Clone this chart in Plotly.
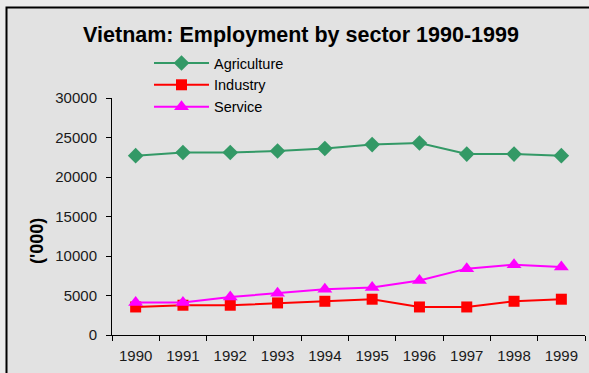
import plotly.graph_objects as go

# Employment by sector, thousands of people
years = ["1990", "1991", "1992", "1993", "1994", "1995", "1996", "1997", "1998", "1999"]
agriculture = [22700, 23100, 23100, 23300, 23600, 24100, 24300, 22900, 22900, 22700]
industry = [3550, 3770, 3770, 4060, 4270, 4530, 3550, 3550, 4270, 4530]
service = [4100, 4100, 4800, 5300, 5800, 6000, 6900, 8400, 8900, 8600]
y_ticks = [0, 5000, 10000, 15000, 20000, 25000, 30000]

FONT = "Liberation Sans, Arial, sans-serif"
W, H = 589, 373
L, R, T, B = 112, 4, 98, 38
plot_w, plot_h = W - L - R, H - T - B


def px_x(x):
    return (x - L) / plot_w


def px_y(y):
    return (H - B - y) / plot_h


fig = go.Figure()
fig.add_trace(go.Scatter(
    x=years, y=agriculture, name="Agriculture", mode="lines+markers",
    line=dict(color="#339966", width=2),
    marker=dict(symbol="diamond", size=12, color="#339966"),
))
fig.add_trace(go.Scatter(
    x=years, y=industry, name="Industry", mode="lines+markers",
    line=dict(color="#ff0000", width=2),
    marker=dict(symbol="square", size=11, color="#ff0000"),
))
fig.add_trace(go.Scatter(
    x=years, y=service, name="Service", mode="lines+markers",
    line=dict(color="#ff00ff", width=2),
    marker=dict(symbol="triangle-up", size=13, color="#ff00ff"),
))

# chart-area panel with black frame
fig.add_shape(
    type="rect", xref="paper", yref="paper", layer="below",
    x0=px_x(6.5), x1=px_x(600), y0=px_y(7.5), y1=px_y(380),
    fillcolor="#e2e2e2", line=dict(color="#000000", width=2),
)

# vertical axis caption
fig.add_annotation(
    text="<b>('000)</b>", textangle=-90, showarrow=False,
    xref="paper", yref="paper", x=px_x(37), y=px_y(241),
    xanchor="center", yanchor="middle",
    font=dict(family=FONT, size=18, color="#000000"),
)

fig.update_layout(
    width=W, height=H,
    margin=dict(l=L, r=R, t=T, b=B),
    paper_bgcolor="#ebebeb",
    plot_bgcolor="rgba(0,0,0,0)",
    font=dict(family=FONT, color="#1a1a1a", size=15),
    title=dict(
        text="<b>Vietnam: Employment by sector 1990-1999</b>",
        x=301 / W, xanchor="center",
        y=1 - 34 / H, yanchor="middle",
        font=dict(family=FONT, size=21.5, color="#000000"),
    ),
    showlegend=True,
    legend=dict(
        x=px_x(149), y=px_y(47), xanchor="left", yanchor="top",
        bgcolor="rgba(0,0,0,0)", font=dict(family=FONT, size=14.5, color="#000000"),
        tracegroupgap=0, itemwidth=55,
    ),
    xaxis=dict(
        type="category", range=[-0.5, 9.5],
        showline=True, linecolor="#000000", linewidth=1,
        ticks="outside", tickson="boundaries", ticklen=5, tickcolor="#000000",
        showgrid=False, zeroline=False, ticklabelstandoff=7,
        tickfont=dict(family=FONT, size=15, color="#1a1a1a"),
    ),
    yaxis=dict(
        range=[0, 30000], tickvals=y_ticks, ticktext=[str(v) for v in y_ticks],
        showline=True, linecolor="#000000", linewidth=1,
        ticks="outside", ticklen=5, tickcolor="#000000",
        showgrid=False, zeroline=False, ticklabelstandoff=6,
        tickfont=dict(family=FONT, size=15, color="#1a1a1a"),
    ),
)

fig.write_html("out.html")
